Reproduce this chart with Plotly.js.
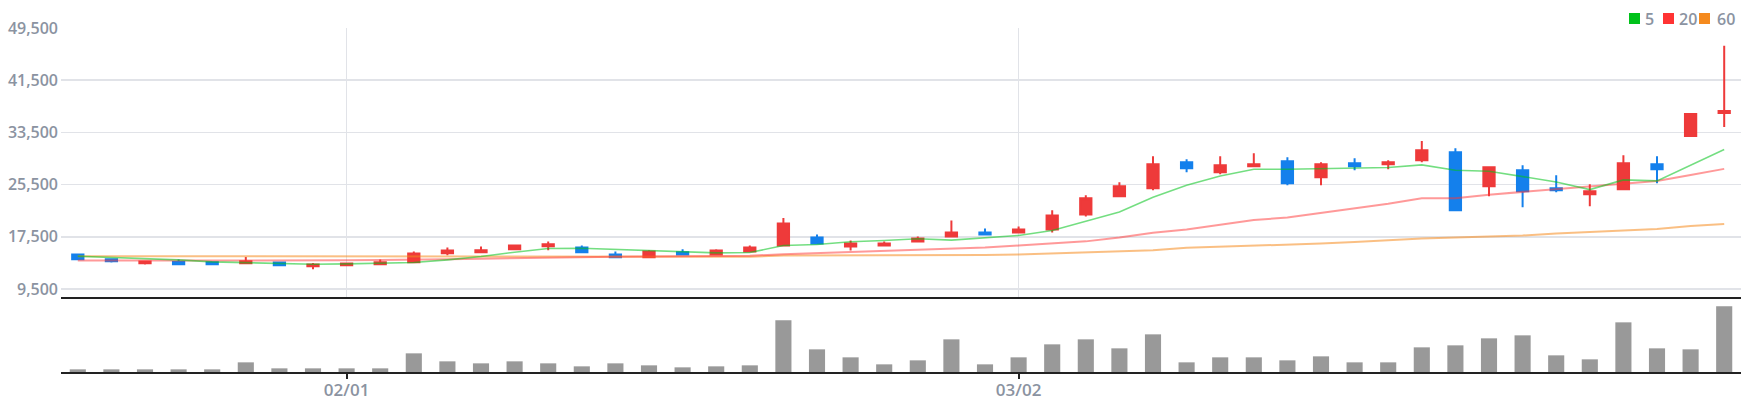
<!DOCTYPE html>
<html>
<head>
<meta charset="utf-8">
<script src="https://cdn.plot.ly/plotly-3.0.1.min.js"></script>
<style>
html,body{margin:0;padding:0;background:#fff;}
#chart{width:1744px;height:400px;}
</style>
</head>
<body>
<div id="chart"></div>
<script>
const dates = ['01/18','01/19','01/20','01/25','01/26','01/27','01/30','01/31',
  '02/01','02/02','02/03','02/06','02/07','02/08','02/09','02/10','02/13','02/14','02/15','02/16',
  '02/17','02/20','02/21','02/22','02/23','02/24','02/27','02/28',
  '03/02','03/03','03/06','03/07','03/08','03/09','03/10','03/13','03/14','03/15','03/16','03/17',
  '03/20','03/21','03/22','03/23','03/24','03/27','03/28','03/29','03/30','03/31'];

const openP = [14782,14064,13449,13654,13602,13449,13551,12987,13141,13295,
  13602,14987,15141,15602,16064,15859,14782,14372,15141,14782,
  15243,16166,17397,16013,16166,16782,17551,18166,18166,18628,
  20936,23705,24936,28936,27397,28320,29089,26628,28782,28628,
  29243,30474,25243,27705,24936,24013,24782,28628,32936,36474];
const highP = [14782,14064,13859,14013,13602,14423,13551,13500,13551,14013,
  15243,15859,16013,16320,16782,16166,15243,15448,15602,15602,
  16166,20372,17859,16936,16782,17551,20013,18782,19089,21551,
  23859,25859,29859,29397,29859,30320,29705,28936,29551,29243,
  32166,31089,28166,28474,26936,25551,30013,29859,36320,46782];
const lowP = [13910,13551,13243,13295,13141,13295,13141,12526,13141,13295,
  13602,14679,15141,15602,15448,15141,14372,14372,14628,14782,
  15089,16166,16320,15397,16166,16628,17551,17705,18013,18166,
  20628,23551,24628,27397,27089,28166,25397,25397,27705,27859,
  28936,21551,23705,22013,24320,22166,24782,25705,32782,34320];
const closeP = [14064,13756,13705,13295,13295,13756,13141,13243,13397,13602,
  14936,15397,15448,16166,16371,15141,14372,15243,14782,15397,
  15859,19551,16474,16474,16474,17243,18166,17859,18628,20782,
  23397,25243,28628,28013,28474,28628,25705,28628,28320,28936,
  30782,21551,28166,24474,24628,24474,28782,27859,36320,36782];

const ma5 = [14526,14372,14218,13961,13654,13500,13397,13295,13346,13449,
  13551,13961,14474,15141,15705,15756,15602,15448,15192,15038,
  15089,16166,16320,16731,16936,17192,16987,17295,17705,18474,
  19910,21295,23551,25397,26833,27859,27859,27910,28013,28115,
  28525,27705,27551,26782,25910,24730,26218,26064,28525,30884];
const ma20 = [13859,13859,13830,13800,13800,13830,13860,13880,13900,13930,
  13960,14050,14150,14250,14330,14420,14450,14480,14520,14560,
  14600,14830,14990,15150,15300,15450,15650,15850,16166,16450,
  16800,17397,18115,18628,19295,20064,20474,21192,21808,22577,
  23397,23397,23961,24371,24730,25141,25654,26064,26987,27910];
const ma60 = [14526,14526,14500,14480,14470,14470,14470,14470,14480,14480,
  14480,14450,14430,14420,14420,14420,14420,14420,14420,14420,
  14450,14628,14628,14628,14640,14660,14700,14720,14782,14936,
  15060,15192,15448,15808,15950,16166,16300,16474,16700,16987,
  17243,17397,17550,17705,18013,18218,18372,18679,19141,19449];

const volume = [80,80,80,80,80,290,110,110,110,110,
  560,320,260,320,260,170,260,200,140,170,
  200,1550,680,440,230,350,980,230,440,830,
  980,710,1130,290,440,440,350,470,290,290,
  740,800,1010,1100,500,380,1490,710,680,1970];

const tickDates = ['02/01','03/02'];
const yTicks = [9500,17500,25500,33500,41500,49500];
const legendNames = ['5','20','60'];
const legendColors = ['#00c21a','#ff3333','#f58a1e'];

const UP = '#ee3a3a', DOWN = '#1480ec';
const gridC = '#e1e3e8', labelC = '#8b93a1';
const fontFam = '"Open Sans", "Noto Sans", sans-serif';

const traces = [
  {type:'candlestick', x:dates, open:openP, high:highP, low:lowP, close:closeP,
   xaxis:'x', yaxis:'y',
   increasing:{line:{color:UP,width:2}, fillcolor:UP},
   decreasing:{line:{color:DOWN,width:2}, fillcolor:DOWN},
   whiskerwidth:0, showlegend:false, hoverinfo:'skip'},
  {type:'scatter', mode:'lines', x:dates, y:ma60, xaxis:'x', yaxis:'y',
   line:{color:'rgba(245,138,30,0.55)', width:2}, showlegend:false, hoverinfo:'skip'},
  {type:'scatter', mode:'lines', x:dates, y:ma20, xaxis:'x', yaxis:'y',
   line:{color:'rgba(255,51,51,0.5)', width:2}, showlegend:false, hoverinfo:'skip'},
  {type:'scatter', mode:'lines', x:dates, y:ma5, xaxis:'x', yaxis:'y',
   line:{color:'rgba(0,194,26,0.55)', width:1.6}, showlegend:false, hoverinfo:'skip'},
  {type:'bar', x:dates, y:volume, xaxis:'x2', yaxis:'y2',
   marker:{color:'#999999'}, showlegend:false, hoverinfo:'skip'}
];

const legendSq = [1629, 1663, 1699];
const legendTx = [1645, 1679, 1717];
const shapes = [];
const annotations = [];
legendNames.forEach((n,i)=>{
  shapes.push({type:'rect', xref:'paper', yref:'paper',
    x0:(legendSq[i]-61)/1680, x1:(legendSq[i]+11-61)/1680,
    y0:(372-24)/344, y1:(372-13)/344,
    fillcolor:legendColors[i], line:{width:0}});
  annotations.push({xref:'paper', yref:'paper', x:(legendTx[i]-61)/1680, y:(372-18.5)/344,
    xanchor:'left', yanchor:'middle', text:n, showarrow:false, borderpad:0, borderwidth:0,
    font:{family:fontFam, size:16, color:labelC, weight:600}});
});

const layout = {
  width:1744, height:400,
  margin:{l:61, r:3, t:28, b:28},
  paper_bgcolor:'#ffffff', plot_bgcolor:'#ffffff',
  showlegend:false,
  boxgap:0.52,
  bargap:0.52,
  font:{family:fontFam, color:labelC},
  xaxis:{type:'category', anchor:'y', categoryorder:'array', categoryarray:dates,
    range:[-0.5,49.5], rangeslider:{visible:false},
    showticklabels:false, ticks:'', tickvals:tickDates,
    showgrid:true, gridcolor:gridC, gridwidth:1,
    showline:true, linecolor:'#222222', linewidth:2, zeroline:false, fixedrange:true},
  xaxis2:{type:'category', anchor:'y2', matches:'x', categoryorder:'array', categoryarray:dates,
    range:[-0.5,49.5],
    tickvals:tickDates, ticktext:tickDates, ticks:'outside', ticklen:5, tickwidth:2, tickcolor:'#222222',
    tickfont:{family:fontFam, size:17, color:labelC, weight:600},
    ticklabelstandoff:-3,
    showgrid:false, showline:true, linecolor:'#222222', linewidth:2, zeroline:false},
  yaxis:{domain:[0.218,1], range:[8274,49500], tickvals:yTicks,
    tickformat:',d', separatethousands:true,
    tickfont:{family:fontFam, size:16, color:labelC, weight:600},
    showgrid:true, gridcolor:gridC, gridwidth:1.5, zeroline:false, showline:false, ticks:'',
    ticklabelstandoff:2},
  yaxis2:{domain:[0,0.218], range:[0,2250], showticklabels:false, showgrid:false,
    zeroline:false, showline:false, ticks:''},
  shapes:shapes,
  annotations:annotations
};

Plotly.newPlot('chart', traces, layout, {staticPlot:true, displayModeBar:false});
</script>
</body>
</html>
